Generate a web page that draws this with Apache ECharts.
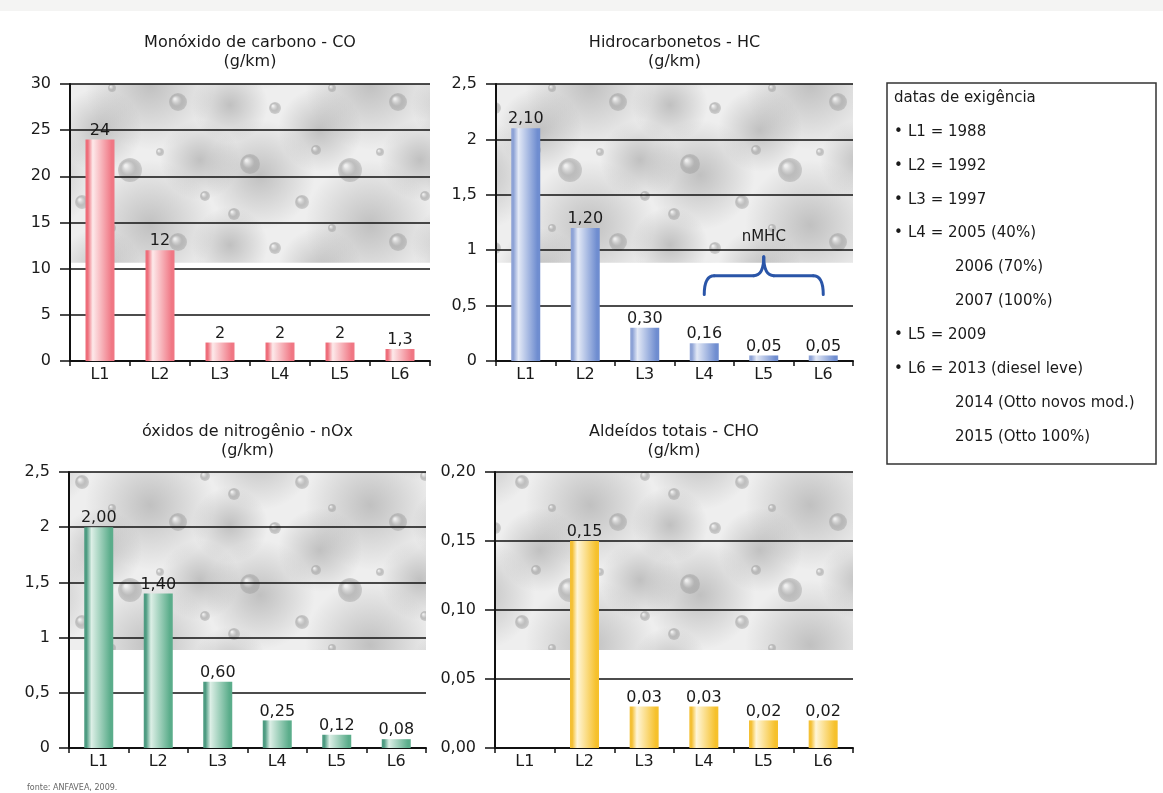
<!DOCTYPE html>
<html>
<head>
<meta charset="utf-8">
<script src="https://cdn.jsdelivr.net/npm/echarts@6/dist/echarts.min.js"></script>
<style>
  html, body { margin: 0; padding: 0; background: #ffffff; }
  #chart { width: 1163px; height: 793px; }
</style>
</head>
<body>
<div id="chart"></div>
<script>
// Emission limits per PROCONVE phase (g/km)
const categories = ['L1', 'L2', 'L3', 'L4', 'L5', 'L6'];
const coValues  = [24, 12, 2, 2, 2, 1.3];
const hcValues  = [2.10, 1.20, 0.30, 0.16, 0.05, 0.05];
const noxValues = [2.00, 1.40, 0.60, 0.25, 0.12, 0.08];
const choValues = [null, 0.15, 0.03, 0.03, 0.02, 0.02];

// y scales: [min, max, interval]
const coScale  = [0, 30, 5];
const hcScale  = [0, 2.5, 0.5];
const noxScale = [0, 2.5, 0.5];
const choScale = [0, 0.20, 0.05];

const chartTitles = [
  'Monóxido de carbono - CO',
  'Hidrocarbonetos - HC',
  'óxidos de nitrogênio - nOx',
  'Aldeídos totais - CHO'
];
const unitLabel = '(g/km)';

// nMHC bracket spans these phases in the HC panel
const nmhcLabel = 'nMHC';
const nmhcFrom = 'L4';
const nmhcTo = 'L6';

const legendHeading = 'datas de exigência';
const legendItems = [
  ['L1 = 1988', true],
  ['L2 = 1992', true],
  ['L3 = 1997', true],
  ['L4 = 2005 (40%)', true],
  ['2006 (70%)', false],
  ['2007 (100%)', false],
  ['L5 = 2009', true],
  ['L6 = 2013 (diesel leve)', true],
  ['2014 (Otto novos mod.)', false],
  ['2015 (Otto 100%)', false]
];
const sourceNote = 'fonte: ANFAVEA, 2009.';

// ---------------------------------------------------------------------------
const FONT = '"DejaVu Sans", "Noto Sans", sans-serif';
const INK = '#1a1a1a';
const FS = 16;

const grids = [
  { left: 70,  top: 84,  width: 360, height: 277 },
  { left: 496, top: 84,  width: 357, height: 277 },
  { left: 69,  top: 472, width: 357, height: 276 },
  { left: 495, top: 472, width: 358, height: 276 }
];
const titleY = [52, 52, 441, 441];

// soft grey "bubbles" tile used behind the upper part of every plot
function makeFogTile() {
  const w = 220, h = 140;
  const c = document.createElement('canvas');
  c.width = w; c.height = h;
  const g = c.getContext('2d');
  g.fillStyle = '#eeeeee';
  g.fillRect(0, 0, w, h);
  const wrap = (x, y, r, draw) => {
    for (const dx of [-w, 0, w]) for (const dy of [-h, 0, h]) {
      if (x + dx + r < 0 || x + dx - r > w || y + dy + r < 0 || y + dy - r > h) continue;
      draw(x + dx, y + dy, r);
    }
  };
  const clouds = [[40, 35, 55], [150, 85, 65], [100, 130, 42], [200, 20, 40], [10, 105, 38]];
  clouds.forEach(([x, y, r]) => wrap(x, y, r, (cx, cy, cr) => {
    const rg = g.createRadialGradient(cx, cy, 0, cx, cy, cr);
    rg.addColorStop(0, 'rgba(155,155,155,0.55)');
    rg.addColorStop(1, 'rgba(155,155,155,0)');
    g.fillStyle = rg;
    g.beginPath(); g.arc(cx, cy, cr, 0, Math.PI * 2); g.fill();
  }));
  const bubbles = [[30, 24, 10], [82, 62, 7], [130, 30, 12], [178, 102, 9], [55, 108, 6],
                   [205, 56, 5], [112, 88, 4], [14, 74, 6], [160, 12, 4], [96, 10, 5]];
  bubbles.forEach(([x, y, r]) => wrap(x, y, r, (cx, cy, cr) => {
    const rg = g.createRadialGradient(cx - cr * 0.35, cy - cr * 0.35, cr * 0.1, cx, cy, cr);
    rg.addColorStop(0, 'rgba(240,240,240,0.9)');
    rg.addColorStop(0.55, 'rgba(170,170,170,0.7)');
    rg.addColorStop(1, 'rgba(145,145,145,0.35)');
    g.fillStyle = rg;
    g.beginPath(); g.arc(cx, cy, cr, 0, Math.PI * 2); g.fill();
  }));
  return c;
}
const fogTile = makeFogTile();

function barFill(edge, light, main) {
  return new echarts.graphic.LinearGradient(0, 0, 1, 0, [
    { offset: 0, color: edge },
    { offset: 0.08, color: edge },
    { offset: 0.25, color: light },
    { offset: 0.9, color: main },
    { offset: 1, color: main }
  ]);
}

const panels = [
  { values: coValues,  scale: coScale,  fill: barFill('#ee6d7a', '#fde9ea', '#f07784'),
    tick: v => String(v), label: v => String(v).replace('.', ',') },
  { values: hcValues,  scale: hcScale,  fill: barFill('#8ea3d6', '#e3e9f6', '#6f8dd0'),
    tick: v => String(v).replace('.', ','), label: v => v.toFixed(2).replace('.', ',') },
  { values: noxValues, scale: noxScale, fill: barFill('#4e9c82', '#dcefe6', '#5bad8b'),
    tick: v => String(v).replace('.', ','), label: v => v.toFixed(2).replace('.', ',') },
  { values: choValues, scale: choScale, fill: barFill('#f4c034', '#fff6d9', '#f6c12c'),
    tick: v => v.toFixed(2).replace('.', ','), label: v => v.toFixed(2).replace('.', ',') }
];

// the fog band covers the top 64.5% of each value range
const fogShare = 0.645;

const option = {
  backgroundColor: '#ffffff',
  animation: false,
  grid: grids.map(g => Object.assign({ containLabel: false }, g)),
  xAxis: panels.map((p, i) => ({
    type: 'category',
    gridIndex: i,
    data: categories,
    z: 1.5,
    axisLine: { lineStyle: { color: '#111', width: 2 } },
    axisTick: { show: true, length: 5, lineStyle: { color: '#111', width: 1.5 } },
    axisLabel: { color: INK, fontFamily: FONT, fontSize: FS, margin: 6 }
  })),
  yAxis: panels.map((p, i) => ({
    type: 'value',
    gridIndex: i,
    min: p.scale[0], max: p.scale[1], interval: p.scale[2],
    z: 1.5,
    axisLine: { show: true, lineStyle: { color: '#111', width: 2 } },
    axisTick: { show: true, length: 10, lineStyle: { color: '#111', width: 1.5 } },
    splitLine: { show: true, lineStyle: { color: '#111', width: 1.5 } },
    axisLabel: { color: INK, fontFamily: FONT, fontSize: FS, margin: 19, formatter: p.tick }
  })),
  series: panels.map((p, i) => ({
    type: 'bar',
    xAxisIndex: i, yAxisIndex: i,
    data: p.values,
    barWidth: 29,
    itemStyle: { color: p.fill },
    label: {
      show: true, position: 'top', distance: 1,
      color: INK, fontFamily: FONT, fontSize: FS,
      formatter: prm => p.label(prm.value)
    },
    markArea: {
      silent: true,
      itemStyle: { color: { image: fogTile, repeat: 'repeat' } },
      data: [[
        { yAxis: p.scale[1] - (p.scale[1] - p.scale[0]) * fogShare },
        { yAxis: p.scale[1] }
      ]]
    }
  }))
};

const chart = echarts.init(document.getElementById('chart'), null, { renderer: 'canvas' });
chart.setOption(option);

// ---------------------------------------------------------------------------
// decorations: titles, nMHC bracket, legend box, source note
const gfx = [];

gfx.push({ type: 'rect', shape: { x: 0, y: 0, width: 1163, height: 11 },
           style: { fill: '#f4f4f3' }, silent: true, z: -10 });

grids.forEach((g, i) => {
  gfx.push({
    type: 'text', x: g.left + g.width / 2, y: titleY[i], z: 10,
    style: { text: chartTitles[i] + '\n' + unitLabel, fill: INK,
             font: '16px ' + FONT, lineHeight: 19,
             align: 'center', verticalAlign: 'middle' }
  });
});

// curly bracket over the nMHC phases in the HC panel
const px = (cat, v) => chart.convertToPixel({ gridIndex: 1 }, [cat, v]);
const a = px(nmhcFrom, 0.6);
const b = px(nmhcTo, 0.6);
const yEnd = a[1];
const yMid = px(nmhcFrom, 0.77)[1];
const yTop = px(nmhcFrom, 0.94)[1];
const xm = (a[0] + b[0]) / 2;
const r = 10;
const braceStyle = { fill: null, stroke: '#2a55a8', lineWidth: 3, lineCap: 'round' };
const curve = (x1, y1, cx, cy, x2, y2) => ({
  type: 'bezierCurve', z: 10, silent: true,
  shape: { x1: x1, y1: y1, cpx1: cx, cpy1: cy, x2: x2, y2: y2 },
  style: braceStyle
});
const seg = (x1, y1, x2, y2) => ({
  type: 'line', z: 10, silent: true,
  shape: { x1: x1, y1: y1, x2: x2, y2: y2 },
  style: braceStyle
});
gfx.push(curve(a[0], yEnd, a[0], yMid, a[0] + r, yMid));
gfx.push(seg(a[0] + r, yMid, xm - r, yMid));
gfx.push(curve(xm - r, yMid, xm, yMid, xm, yTop));
gfx.push(curve(xm, yTop, xm, yMid, xm + r, yMid));
gfx.push(seg(xm + r, yMid, b[0] - r, yMid));
gfx.push(curve(b[0] - r, yMid, b[0], yMid, b[0], yEnd));
gfx.push({
  type: 'text', x: xm, y: px(nmhcFrom, 1.12)[1], z: 10,
  style: { text: nmhcLabel, fill: INK, font: '15px ' + FONT, align: 'center', verticalAlign: 'middle' }
});

// legend box with the phase dates
const box = { x: 887, y: 83, w: 269, h: 381 };
gfx.push({
  type: 'rect', z: 10,
  shape: { x: box.x, y: box.y, width: box.w, height: box.h },
  style: { fill: '#ffffff', stroke: '#333', lineWidth: 1.5 }
});
const lineStep = 33.9;
gfx.push({
  type: 'text', x: box.x + 7, y: box.y + 15, z: 11,
  style: { text: legendHeading, fill: INK, font: '15px ' + FONT, verticalAlign: 'middle' }
});
legendItems.forEach(([txt, bullet], k) => {
  const y = box.y + 15 + lineStep * (k + 1);
  if (bullet) {
    gfx.push({ type: 'text', x: box.x + 7, y: y, z: 11,
      style: { text: '•', fill: INK, font: '15px ' + FONT, verticalAlign: 'middle' } });
  }
  gfx.push({ type: 'text', x: bullet ? box.x + 21 : box.x + 68, y: y, z: 11,
    style: { text: txt, fill: INK, font: '15px ' + FONT, verticalAlign: 'middle' } });
});

gfx.push({
  type: 'text', x: 27, y: 788, z: 10,
  style: { text: sourceNote, fill: '#666', font: '8px ' + FONT, verticalAlign: 'middle' }
});

chart.setOption({ graphic: gfx });
</script>
</body>
</html>
